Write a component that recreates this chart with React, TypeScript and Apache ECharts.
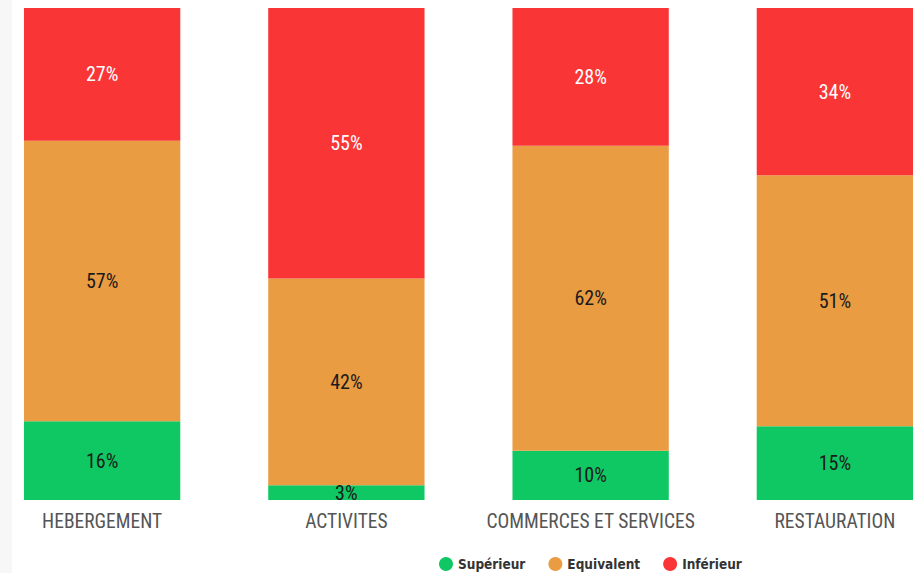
import React, { useEffect, useRef } from "react";
import * as echarts from "echarts";

const categories = ["HEBERGEMENT", "ACTIVITES", "COMMERCES ET SERVICES", "RESTAURATION"];
const superieur = [16, 3, 10, 15];
const equivalent = [57, 42, 62, 51];
const inferieur = [27, 55, 28, 34];
const seriesNames = ["Supérieur", "Equivalent", "Inférieur"];
const colors = ["#10c863", "#ea9c43", "#f93535"];
const labelColors = ["#1a1a1a", "#1a1a1a", "#ffffff"];

const FONT = "'Roboto Condensed', 'Liberation Sans Narrow', 'Roboto', sans-serif";

export default function App() {
  const ref = useRef<HTMLDivElement>(null);
  useEffect(() => {
    if (!ref.current) return;
    const chart = echarts.init(ref.current, null, { renderer: "svg" });
    const values = [superieur, equivalent, inferieur];
    chart.setOption({
      animation: false,
      backgroundColor: "#ffffff",
      graphic: [
        { type: "rect", left: 20, top: 0, shape: { width: 12, height: 573 }, style: { fill: "#f7f7f7" }, z: -1 },
      ],
      grid: { left: 0, right: 0, top: 8, bottom: 73, containLabel: false },
      legend: {
        left: 454,
        top: 552,
        icon: "circle",
        itemWidth: 14,
        itemHeight: 14,
        itemGap: 23,
        textStyle: { fontFamily: "'DejaVu Sans Condensed', 'DejaVu Sans', sans-serif", fontWeight: "bold", fontSize: 13.5, color: "#333" },
        data: seriesNames,
      },
      xAxis: {
        type: "category",
        data: categories,
        axisLine: { show: false },
        axisTick: { show: false },
        axisLabel: { color: "#555", fontSize: 19.5, fontFamily: FONT, margin: 11, interval: 0 },
      },
      yAxis: {
        type: "value",
        min: 0,
        max: 100,
        show: false,
        splitLine: { show: false },
      },
      series: seriesNames.map((name, i) => ({
        name,
        type: "bar",
        stack: "total",
        barWidth: "64%",
        data: values[i],
        itemStyle: { color: colors[i] },
        label: {
          show: true,
          position: "inside",
          formatter: "{c}%",
          color: labelColors[i],
          fontSize: 20,
          fontFamily: FONT,
        },
      })),
    });
    return () => chart.dispose();
  }, []);
  return (
    <div
      ref={ref}
      style={{ position: "fixed", left: -20, top: 0, width: 977, height: 573 }}
    />
  );
}
